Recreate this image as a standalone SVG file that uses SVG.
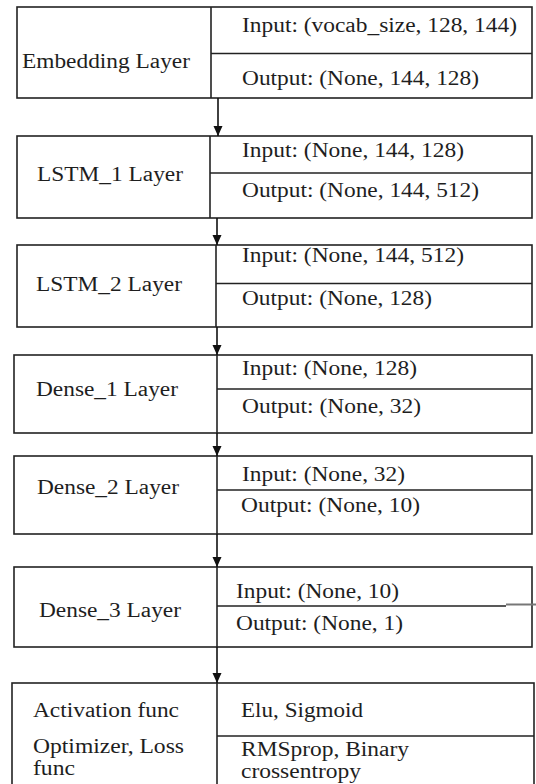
<svg xmlns="http://www.w3.org/2000/svg" width="536" height="784" viewBox="0 0 536 784">
<style>
.box{fill:#fff;stroke:#222;stroke-width:1.6}
.ln{stroke:#222;stroke-width:1.6;fill:none}
.t{font-family:"Liberation Serif","Times New Roman",serif;font-size:20px;fill:#1e1e1e}
.con{stroke:#111;stroke-width:1.6;fill:none}
</style>
<defs>
<marker id="ah" markerUnits="userSpaceOnUse" markerWidth="10" markerHeight="10" viewBox="0 0 10 10" refX="10" refY="5" orient="auto">
<path d="M0,0.5 L10,5 L0,9.5 Z" fill="#111"/>
</marker>
</defs>
<rect width="536" height="784" fill="#fff"/>
<g id="embedding">
<rect class="box" x="17" y="7" width="515" height="91"/>
<line class="ln" x1="211" y1="7" x2="211" y2="98"/>
<line class="ln" x1="211" y1="53.5" x2="532" y2="53.5"/>
<text class="t" x="22" y="68" textLength="168" lengthAdjust="spacingAndGlyphs">Embedding Layer</text>
<text class="t" x="242" y="32" textLength="275" lengthAdjust="spacingAndGlyphs">Input: (vocab_size, 128, 144)</text>
<text class="t" x="242" y="85" textLength="237" lengthAdjust="spacingAndGlyphs">Output: (None, 144, 128)</text>
</g>
<g id="lstm1">
<rect class="box" x="17" y="136" width="515" height="82"/>
<line class="ln" x1="210" y1="136" x2="210" y2="218"/>
<line class="ln" x1="210" y1="173" x2="532" y2="173"/>
<text class="t" x="37" y="181" textLength="146" lengthAdjust="spacingAndGlyphs">LSTM_1 Layer</text>
<text class="t" x="242" y="157" textLength="222" lengthAdjust="spacingAndGlyphs">Input: (None, 144, 128)</text>
<text class="t" x="242" y="197" textLength="237" lengthAdjust="spacingAndGlyphs">Output: (None, 144, 512)</text>
</g>
<g id="lstm2">
<rect class="box" x="17" y="245" width="515" height="82"/>
<line class="ln" x1="216" y1="245" x2="216" y2="327"/>
<line class="ln" x1="216" y1="283.5" x2="532" y2="283.5"/>
<text class="t" x="36" y="291" textLength="146" lengthAdjust="spacingAndGlyphs">LSTM_2 Layer</text>
<text class="t" x="242" y="262" textLength="222" lengthAdjust="spacingAndGlyphs">Input: (None, 144, 512)</text>
<text class="t" x="242" y="305" textLength="190" lengthAdjust="spacingAndGlyphs">Output: (None, 128)</text>
</g>
<g id="dense1">
<rect class="box" x="14" y="355" width="518" height="78"/>
<line class="ln" x1="217" y1="355" x2="217" y2="433"/>
<line class="ln" x1="217" y1="389" x2="532" y2="389"/>
<text class="t" x="36" y="396" textLength="142" lengthAdjust="spacingAndGlyphs">Dense_1 Layer</text>
<text class="t" x="242" y="375" textLength="175" lengthAdjust="spacingAndGlyphs">Input: (None, 128)</text>
<text class="t" x="242" y="413" textLength="179" lengthAdjust="spacingAndGlyphs">Output: (None, 32)</text>
</g>
<g id="dense2">
<rect class="box" x="14" y="456" width="518" height="78"/>
<line class="ln" x1="217" y1="456" x2="217" y2="534"/>
<line class="ln" x1="217" y1="490" x2="532" y2="490"/>
<text class="t" x="37" y="494" textLength="142" lengthAdjust="spacingAndGlyphs">Dense_2 Layer</text>
<text class="t" x="242" y="481" textLength="163" lengthAdjust="spacingAndGlyphs">Input: (None, 32)</text>
<text class="t" x="241" y="512" textLength="179" lengthAdjust="spacingAndGlyphs">Output: (None, 10)</text>
</g>
<g id="dense3">
<rect class="box" x="14" y="567" width="518" height="80"/>
<line class="ln" x1="217" y1="567" x2="217" y2="647"/>
<line class="ln" x1="217" y1="606" x2="506" y2="606"/>
<line x1="506" y1="604.5" x2="536" y2="604.5" stroke="#777" stroke-width="2"/>
<text class="t" x="39" y="617" textLength="142" lengthAdjust="spacingAndGlyphs">Dense_3 Layer</text>
<text class="t" x="236" y="598" textLength="163" lengthAdjust="spacingAndGlyphs">Input: (None, 10)</text>
<text class="t" x="236" y="630" textLength="167" lengthAdjust="spacingAndGlyphs">Output: (None, 1)</text>
</g>
<g id="config">
<rect class="box" x="12" y="683" width="522" height="110"/>
<line class="ln" x1="217" y1="683" x2="217" y2="790"/>
<line class="ln" x1="217" y1="736" x2="534" y2="736"/>
<text class="t" x="33" y="717" textLength="146" lengthAdjust="spacingAndGlyphs">Activation func</text>
<text class="t" x="33" y="753" textLength="151" lengthAdjust="spacingAndGlyphs">Optimizer, Loss</text>
<text class="t" x="33" y="775" textLength="42" lengthAdjust="spacingAndGlyphs">func</text>
<text class="t" x="241" y="756" textLength="168" lengthAdjust="spacingAndGlyphs">RMSprop, Binary</text>
<text class="t" x="241" y="778" textLength="120" lengthAdjust="spacingAndGlyphs">crossentropy</text>
<text class="t" x="241" y="717" textLength="122" lengthAdjust="spacingAndGlyphs">Elu, Sigmoid</text>
</g>
<g id="connectors">
<line class="con" x1="218" y1="98" x2="218" y2="136" marker-end="url(#ah)"/>
<line class="con" x1="217" y1="218" x2="217" y2="245" marker-end="url(#ah)"/>
<line class="con" x1="217" y1="327" x2="217" y2="355" marker-end="url(#ah)"/>
<line class="con" x1="217" y1="433" x2="217" y2="456" marker-end="url(#ah)"/>
<line class="con" x1="217" y1="534" x2="217" y2="567" marker-end="url(#ah)"/>
<line class="con" x1="217" y1="647" x2="217" y2="683" marker-end="url(#ah)"/>
</g>
</svg>
